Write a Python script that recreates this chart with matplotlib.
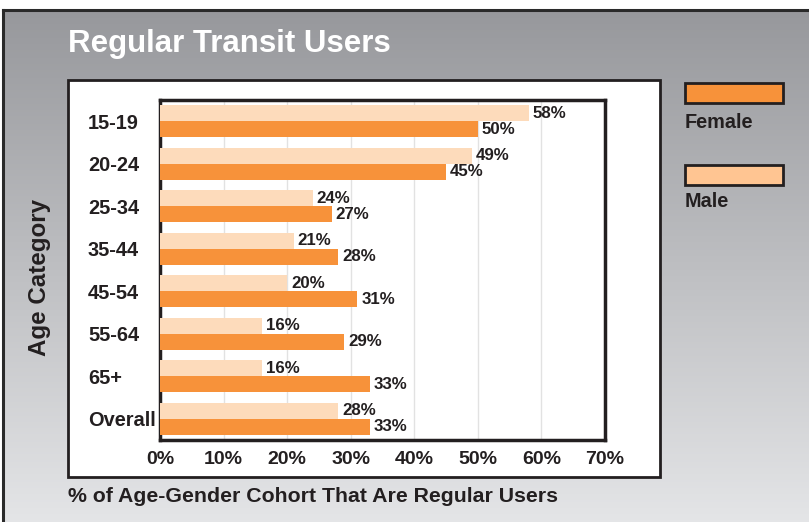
import numpy as np
import matplotlib
matplotlib.use("Agg")
import matplotlib.pyplot as plt
from matplotlib.patches import Rectangle
from matplotlib.colors import LinearSegmentedColormap

plt.rcParams['font.family'] = ['Liberation Sans', 'DejaVu Sans']

categories = ["15-19", "20-24", "25-34", "35-44", "45-54", "55-64", "65+", "Overall"]
male = [58, 49, 24, 21, 20, 16, 16, 28]
female = [50, 45, 27, 28, 31, 29, 33, 33]
xticks = [0, 10, 20, 30, 40, 50, 60, 70]
xtick_labels = ["0%", "10%", "20%", "30%", "40%", "50%", "60%", "70%"]

W, H = 809, 522
DARK = "#231f20"
FEMALE_C = "#f7923a"
MALE_C = "#fddbbb"
MALE_LEG = "#ffc592"

fig = plt.figure(figsize=(W / 100, H / 100), dpi=100)
fig.patch.set_facecolor("white")

def fx(px):
    return px / W

def fy(py):
    return 1 - py / H

# background gradient
bg = fig.add_axes([fx(3), 0, 1 - fx(3), fy(10)])
bg.set_zorder(-5)
cmap = LinearSegmentedColormap.from_list("g", ["#97989c", "#e4e5e7"])
grad = np.linspace(0, 1, 256).reshape(-1, 1)
bg.imshow(grad, aspect="auto", cmap=cmap, extent=[0, 1, 0, 1], origin="upper")
bg.set_xlim(0, 1)
bg.set_ylim(0, 1)
bg.axis("off")
# outer border lines (top and left)
fig.add_artist(plt.Line2D([fx(3), 1], [fy(10), fy(10)], color="#2a2a2a", lw=2.2, zorder=-2))
fig.add_artist(plt.Line2D([fx(3), fx(3)], [0, fy(10)], color="#2a2a2a", lw=2.2, zorder=-2))

# white panel
fig.add_artist(Rectangle((fx(68), fy(477)), fx(660) - fx(68), fy(80) - fy(477),
                         transform=fig.transFigure, facecolor="white",
                         edgecolor=DARK, lw=2, zorder=-1))

# title
fig.text(fx(68), fy(44), "Regular Transit Users", color="white", fontsize=22.5,
         fontweight="bold", ha="left", va="center")

# main axes
ax = fig.add_axes([fx(160), fy(440), fx(605) - fx(160), fy(100) - fy(440)])
ax.set_zorder(1)
ax.set_facecolor("white")
y = np.arange(len(categories))
h = 0.38
ax.barh(y - h / 2, male, height=h, color=MALE_C, zorder=3)
ax.barh(y + h / 2, female, height=h, color=FEMALE_C, zorder=3)
for yi, m, f in zip(y, male, female):
    ax.annotate(f"{m}%", (m, yi - h / 2), xytext=(3, 0), textcoords="offset points",
                va="center", ha="left", fontsize=12.2, fontweight="bold", color=DARK)
    ax.annotate(f"{f}%", (f, yi + h / 2), xytext=(3, 0), textcoords="offset points",
                va="center", ha="left", fontsize=12.2, fontweight="bold", color=DARK)

ax.set_xlim(0, 70)
ax.set_ylim(len(categories) - 0.5, -0.5)
ax.set_xticks(xticks)
ax.set_xticklabels(xtick_labels)
ax.set_yticks(y)
ax.set_yticklabels(categories)
ax.tick_params(axis="both", length=0, colors=DARK)
ax.tick_params(axis="y", pad=72 * 0.72, labelsize=14.4)
ax.tick_params(axis="x", pad=8, labelsize=14)
for lab in ax.get_xticklabels() + ax.get_yticklabels():
    lab.set_fontweight("bold")
for lab in ax.get_yticklabels():
    lab.set_horizontalalignment("left")
ax.xaxis.grid(True, color="#e2e2e2", lw=1, zorder=0)
ax.set_axisbelow(True)
for sp in ax.spines.values():
    sp.set_linewidth(2.5)
    sp.set_color(DARK)

# axis titles
fig.text(fx(40), fy(278), "Age Category", rotation=90, fontsize=17.4,
         fontweight="bold", color=DARK, ha="center", va="center")
fig.text(fx(68), fy(497), "% of Age-Gender Cohort That Are Regular Users",
         fontsize=15.3, fontweight="bold", color=DARK, ha="left", va="center")

# legend
for (top, label, col, ty) in [(83, "Female", FEMALE_C, 123), (165, "Male", MALE_LEG, 202)]:
    fig.add_artist(Rectangle((fx(685), fy(top + 20)), fx(783) - fx(685), fy(top) - fy(top + 20),
                             transform=fig.transFigure, facecolor=col,
                             edgecolor=DARK, lw=2))
    fig.text(fx(685), fy(ty), label, fontsize=14.3, fontweight="bold", color=DARK,
             ha="left", va="center")

fig.savefig("out.png", dpi=100)
